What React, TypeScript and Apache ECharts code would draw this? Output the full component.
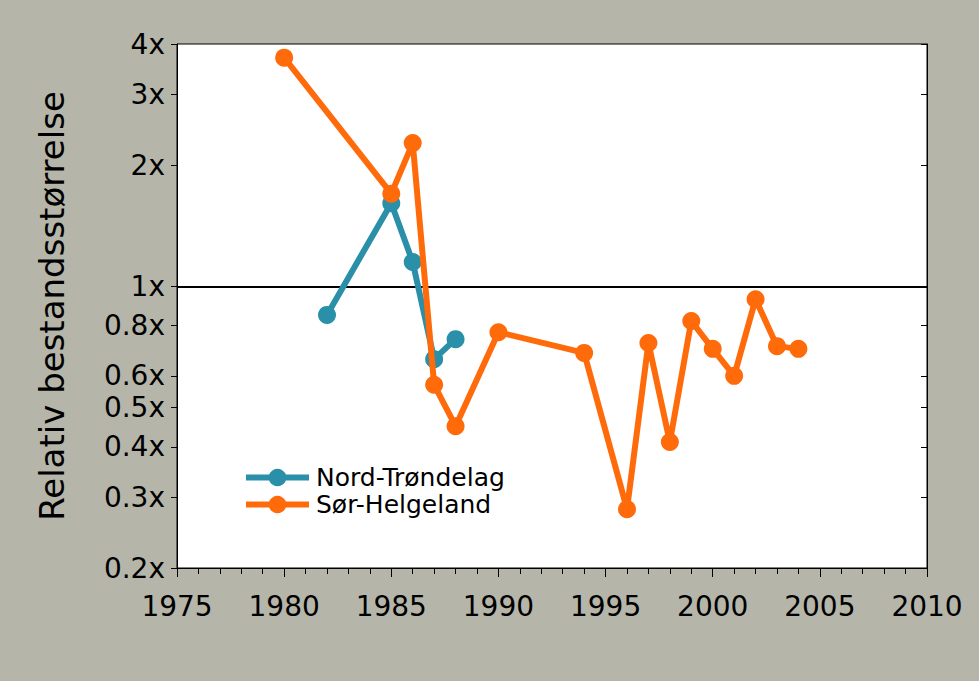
import React, { useEffect, useRef } from "react";
import * as echarts from "echarts";

const years = [1975, 2010];
const nordYears = [1982, 1985, 1986, 1987, 1988];
const nordValues = [0.85, 1.61, 1.15, 0.66, 0.74];
const sorYears = [1980, 1985, 1986, 1987, 1988, 1990, 1994, 1996, 1997, 1998, 1999, 2000, 2001, 2002, 2003, 2004];
const sorValues = [3.7, 1.7, 2.27, 0.57, 0.45, 0.77, 0.684, 0.28, 0.724, 0.411, 0.821, 0.7, 0.6, 0.93, 0.711, 0.7];
const yTicks = [0.2, 0.3, 0.4, 0.5, 0.6, 0.8, 1, 2, 3, 4];
const yTickLabels = ["0.2x", "0.3x", "0.4x", "0.5x", "0.6x", "0.8x", "1x", "2x", "3x", "4x"];
const seriesNames = ["Nord-Trøndelag", "Sør-Helgeland"];
const yTitle = "Relativ bestandsstørrelse";

const FONT = "DejaVu Sans";
const TEAL = "#2a8fa8";
const ORANGE = "#ff6a0a";
const BG = "#b6b5a9";

export default function App() {
  const ref = useRef<HTMLDivElement>(null);
  useEffect(() => {
    document.body.style.margin = "0";
    const chart = echarts.init(ref.current!, null, { renderer: "svg" });
    const logTicks = yTicks.map((v) => Math.log10(v));
    const fmt = (v: number) => {
      const i = logTicks.findIndex((t) => Math.abs(t - v) < 1e-6);
      return i >= 0 ? yTickLabels[i] : "";
    };
    const yMin = Math.log10(yTicks[0]);
    const yMax = Math.log10(yTicks[yTicks.length - 1]);
    const baseY = {
      type: "value" as const,
      min: yMin,
      max: yMax,
      splitLine: { show: false },
      axisLine: { show: true, onZero: false, lineStyle: { color: "#000", width: 1 } },
    };
    chart.setOption({
      animation: false,
      backgroundColor: BG,
      grid: {
        left: 177,
        right: 52,
        top: 44,
        bottom: 113,
        show: true,
        backgroundColor: "#fff",
        borderColor: "#000",
        borderWidth: 1,
      },
      legend: {
        left: 238,
        top: 460,
        orient: "vertical",
        itemWidth: 63,
        itemHeight: 22,
        itemGap: 2,
        data: seriesNames,
        lineStyle: { width: 6 },
        textStyle: { fontFamily: FONT, fontSize: 25, lineHeight: 25, color: "#000", padding: [0, 0, 0, 2] },
      },
      xAxis: [
        {
          type: "value",
          position: "bottom",
          min: years[0],
          max: years[1],
          interval: 5,
          splitLine: { show: false },
          axisLine: { show: true, onZero: false, lineStyle: { color: "#000", width: 1 } },
          axisTick: { show: true, length: 9, inside: false, lineStyle: { color: "#000", width: 1 } },
          axisLabel: {
            margin: 24,
            fontFamily: FONT,
            fontSize: 28,
            color: "#000",
            formatter: (v: number) => String(v),
          },
        },
        {
          type: "value",
          position: "bottom",
          offset: 0,
          min: years[0],
          max: years[1],
          interval: 1,
          splitLine: { show: false },
          axisLine: { show: false, onZero: false },
          axisTick: { show: true, length: 6, inside: false, lineStyle: { color: "#000", width: 1 } },
          axisLabel: { show: false },
        },
      ],
      yAxis: [
        {
          ...baseY,
          position: "left",
          name: yTitle,
          nameLocation: "middle",
          nameGap: 108,
          nameTextStyle: { fontFamily: FONT, fontSize: 34, color: "#000" },
          axisTick: { show: true, length: 6, customValues: logTicks, lineStyle: { color: "#000" } },
          axisLabel: {
            margin: 12,
            fontFamily: FONT,
            fontSize: 28,
            color: "#000",
            customValues: logTicks,
            formatter: fmt,
          },
        },
        {
          ...baseY,
          position: "right",
          axisTick: { show: true, inside: true, length: 6, customValues: logTicks, lineStyle: { color: "#000" } },
          axisLabel: { show: false },
        },
      ],
      series: [
        {
          name: seriesNames[0],
          type: "line",
          xAxisIndex: 0,
          yAxisIndex: 0,
          data: nordYears.map((y, i) => [y, Math.log10(nordValues[i])]),
          color: TEAL,
          lineStyle: { width: 6, color: TEAL },
          itemStyle: { color: TEAL },
          symbol: "circle",
          symbolSize: 18,
          z: 3,
          markLine: {
            silent: true,
            symbol: ["none", "none"],
            label: { show: false },
            lineStyle: { color: "#000", width: 2, type: "solid" },
            data: [{ yAxis: 0 }],
            z: 1,
          },
        },
        {
          name: seriesNames[1],
          type: "line",
          xAxisIndex: 0,
          yAxisIndex: 0,
          data: sorYears.map((y, i) => [y, Math.log10(sorValues[i])]),
          color: ORANGE,
          lineStyle: { width: 6, color: ORANGE },
          itemStyle: { color: ORANGE },
          symbol: "circle",
          symbolSize: 18,
          z: 4,
        },
      ],
    });
    return () => chart.dispose();
  }, []);
  return <div ref={ref} style={{ width: 979, height: 681 }} />;
}
